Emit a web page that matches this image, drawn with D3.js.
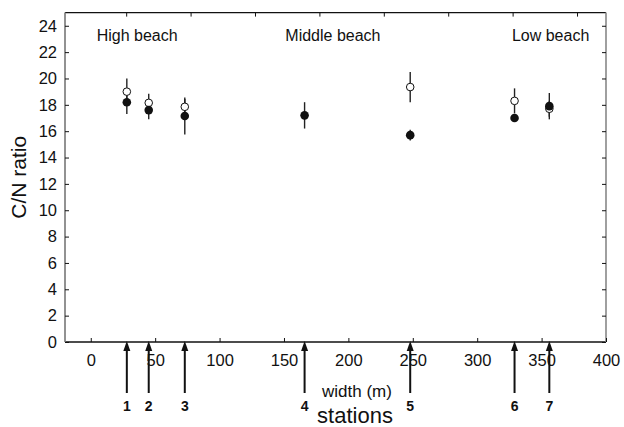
<!DOCTYPE html>
<html>
<head>
<meta charset="utf-8">
<script src="https://cdn.jsdelivr.net/npm/d3@7"></script>
<style>
  body { margin: 0; background: #fff; }
  svg { font-family: "Liberation Sans", Arial, sans-serif; }
</style>
</head>
<body>
<div id="chart"></div>
<script>
// station data
var stations = ["1", "2", "3", "4", "5", "6", "7"];
var widthPos = [28, 45, 73, 166, 248, 329, 356];
// open circles (null = not shown)
var openMean = [19.0, 18.15, 17.85, null, 19.35, 18.3, 17.7];
var openErr  = [1.0, 0.7, 0.6, null, 1.15, 0.95, 0.6];
// filled circles
var fillMean = [18.2, 17.6, 17.15, 17.2, 15.7, 17.0, 17.9];
var fillErr  = [0.9, 0.7, 1.4, 1.0, 0.4, 0.15, 1.0];

var xTicks = [0, 50, 100, 150, 200, 250, 300, 350, 400];
var yTicks = [0, 2, 4, 6, 8, 10, 12, 14, 16, 18, 20, 22, 24];
var topTicks = [27.5, 77.5, 127.5, 177.5, 227.5, 277.5, 327.5, 377.5];
var zones = [
  { label: "High beach", at: 36 },
  { label: "Middle beach", at: 188 },
  { label: "Low beach", at: 357 }
];

var W = 624, H = 427;
var mLeft = 65, mRight = 606, mTop = 12.6, mBottom = 342;

var svg = d3.select("#chart").append("svg")
    .attr("width", W)
    .attr("height", H);

var x = d3.scaleLinear().domain([-20, 400]).range([mLeft, mRight]);
var y = d3.scaleLinear().domain([0, 25]).range([mBottom, mTop]);

// frame
svg.append("line").attr("x1", mLeft).attr("x2", mRight).attr("y1", mTop).attr("y2", mTop)
    .attr("stroke", "#111").attr("stroke-width", 1.2);
svg.append("line").attr("x1", mLeft).attr("x2", mRight).attr("y1", mBottom).attr("y2", mBottom)
    .attr("stroke", "#111").attr("stroke-width", 1.5);
svg.append("line").attr("x1", mLeft).attr("x2", mLeft).attr("y1", mTop).attr("y2", mBottom)
    .attr("stroke", "#777").attr("stroke-width", 1.6);
svg.append("line").attr("x1", mRight).attr("x2", mRight).attr("y1", mTop).attr("y2", mBottom)
    .attr("stroke", "#888").attr("stroke-width", 1.6);

// bottom axis: inward ticks
var xAxis = d3.axisBottom(x).tickValues(xTicks).tickSizeInner(-4).tickSizeOuter(0).tickPadding(12);
var gx = svg.append("g").attr("transform", "translate(0," + mBottom + ")").call(xAxis);
gx.select(".domain").remove();
gx.selectAll("text").attr("font-size", 16.5).attr("fill", "#111").attr("font-family", null);

// left axis
var yAxis = d3.axisLeft(y).tickValues(yTicks).tickSizeInner(-4).tickSizeOuter(0).tickPadding(8);
var gy = svg.append("g").attr("transform", "translate(" + mLeft + ",0)").call(yAxis);
gy.select(".domain").remove();
gy.selectAll("text").attr("font-size", 16.5).attr("fill", "#111").attr("font-family", null);

// right ticks
var gr = svg.append("g").attr("transform", "translate(" + mRight + ",0)")
    .call(d3.axisRight(y).tickValues(yTicks).tickSizeInner(-4).tickSizeOuter(0).tickFormat(""));
gr.select(".domain").remove();

// top ticks
var gt = svg.append("g").attr("transform", "translate(0," + mTop + ")")
    .call(d3.axisTop(x).tickValues(topTicks).tickSizeInner(-4).tickSizeOuter(0).tickFormat(""));
gt.select(".domain").remove();

svg.selectAll(".tick line").attr("stroke", "#111");

// zone labels
svg.selectAll(".zone").data(zones).enter().append("text")
    .attr("class", "zone")
    .attr("x", function (d) { return x(d.at); })
    .attr("y", 41)
    .attr("text-anchor", "middle")
    .attr("font-size", 16)
    .attr("fill", "#111")
    .text(function (d) { return d.label; });

// axis titles
svg.append("text")
    .attr("transform", "translate(26," + y(12.5) + ") rotate(-90)")
    .attr("text-anchor", "middle")
    .attr("font-size", 21)
    .attr("fill", "#111")
    .text("C/N ratio");

svg.append("text")
    .attr("x", 357).attr("y", 397)
    .attr("text-anchor", "middle")
    .attr("font-size", 17)
    .attr("fill", "#111")
    .text("width (m)");

svg.append("text")
    .attr("x", 355).attr("y", 423)
    .attr("text-anchor", "middle")
    .attr("font-size", 22)
    .attr("fill", "#111")
    .text("stations");

// station arrows
var arrows = svg.append("g");
widthPos.forEach(function (w, i) {
    var ax = x(w);
    arrows.append("line")
        .attr("x1", ax).attr("x2", ax)
        .attr("y1", mBottom + 6).attr("y2", 393)
        .attr("stroke", "#111").attr("stroke-width", 2);
    arrows.append("path")
        .attr("d", "M" + ax + "," + (mBottom - 1) + "L" + (ax - 3.5) + "," + (mBottom + 9) + "L" + (ax + 3.5) + "," + (mBottom + 9) + "Z")
        .attr("fill", "#111");
    arrows.append("text")
        .attr("x", ax).attr("y", 411)
        .attr("text-anchor", "middle")
        .attr("font-size", 14)
        .attr("font-weight", "bold")
        .attr("fill", "#111")
        .text(stations[i]);
});

// error bars
var bars = svg.append("g");
widthPos.forEach(function (w, i) {
    if (openMean[i] != null) {
        bars.append("line")
            .attr("x1", x(w)).attr("x2", x(w))
            .attr("y1", y(openMean[i] + openErr[i])).attr("y2", y(openMean[i] - openErr[i]))
            .attr("stroke", "#222").attr("stroke-width", 1.4);
    }
    bars.append("line")
        .attr("x1", x(w)).attr("x2", x(w))
        .attr("y1", y(fillMean[i] + fillErr[i])).attr("y2", y(fillMean[i] - fillErr[i]))
        .attr("stroke", "#222").attr("stroke-width", 1.4);
});

// open circles
svg.append("g").selectAll("circle")
    .data(widthPos.map(function (w, i) { return { w: w, v: openMean[i] }; })
        .filter(function (d) { return d.v != null; }))
    .enter().append("circle")
    .attr("cx", function (d) { return x(d.w); })
    .attr("cy", function (d) { return y(d.v); })
    .attr("r", 3.8)
    .attr("fill", "#fff")
    .attr("stroke", "#111")
    .attr("stroke-width", 1);

// filled circles
svg.append("g").selectAll("circle")
    .data(widthPos.map(function (w, i) { return { w: w, v: fillMean[i] }; }))
    .enter().append("circle")
    .attr("cx", function (d) { return x(d.w); })
    .attr("cy", function (d) { return y(d.v); })
    .attr("r", 4.3)
    .attr("fill", "#111");
</script>
</body>
</html>
